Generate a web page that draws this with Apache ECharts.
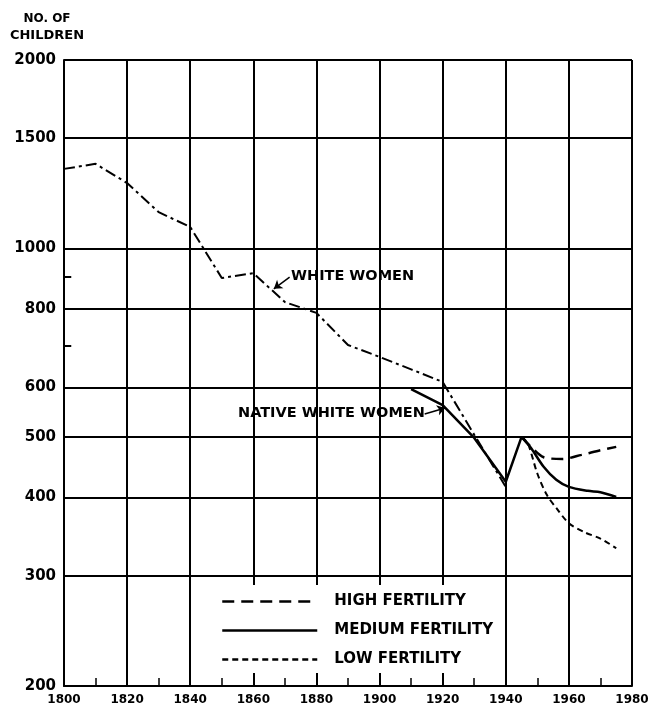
<!DOCTYPE html>
<html><head><meta charset="utf-8">
<script src="https://cdn.jsdelivr.net/npm/echarts@6/dist/echarts.min.js"></script>
<style>html,body{margin:0;padding:0;background:#fff}#c{width:652px;height:706px}</style>
</head><body><div id="c"></div>
<script>
// ---- data ----
const yGridValues = [200, 300, 400, 500, 600, 800, 1000, 1500, 2000];
const yMinorTicks = [700, 900];
const whiteWomen = [[1800,1340],[1810,1365],[1820,1272],[1830,1143],[1840,1082],[1850,897],[1860,913],[1870,821],[1880,789],[1890,701],[1900,671],[1910,641],[1920,612],[1930,504],[1940,416]];
const nativeWhiteWomen = [[1910,596],[1920,562],[1930,498],[1940,424],[1945,500]];
const highFertility = [[1945,500],[1948,482],[1952,464],[1958,461],[1964,468],[1970,476],[1975,482]];
const mediumFertility = [[1945,500],[1948,480],[1952,448],[1956,427],[1960,416],[1966,410],[1970,408],[1975,401]];
const lowFertility = [[1945,500],[1947,488],[1950,437],[1953,404],[1956,385],[1960,364],[1965,352],[1970,344],[1975,332]];
const whiteArrow = [[1871.5, 900], [1866.5, 862]];
const nativeArrow = [[1914.3, 544], [1920.8, 556]];
const seriesNames = ['HIGH FERTILITY', 'MEDIUM FERTILITY', 'LOW FERTILITY'];

const FF = 'DejaVu Sans';
const K = '#000';
const chart = echarts.init(document.getElementById('c'), null, {renderer: 'canvas'});

chart.setOption({
  animation: false,
  backgroundColor: '#fff',
  grid: {left: 64, right: 20, top: 60, bottom: 20},
  xAxis: {
    type: 'value', min: 1800, max: 1980, interval: 20,
    axisLine: {show: true, lineStyle: {color: K, width: 2}},
    axisTick: {show: true, inside: true, length: 8, lineStyle: {color: K, width: 1.5}},
    minorTick: {show: true, splitNumber: 2, length: 8, lineStyle: {color: K, width: 1.5}},
    axisLabel: {formatter: v => String(v), color: K, fontSize: 12, fontWeight: 'bold', fontFamily: FF, margin: 8},
    splitLine: {show: true, lineStyle: {color: K, width: 2}}
  },
  yAxis: {
    type: 'log', logBase: 10, min: 200, max: 2000,
    axisLine: {show: true, lineStyle: {color: K, width: 2}},
    axisTick: {show: false}, axisLabel: {show: false}, splitLine: {show: false}
  },
  legend: {
    data: seriesNames, orient: 'vertical', left: 205, top: 585,
    padding: [9, 8, 6, 16], itemGap: 14, itemWidth: 95, itemHeight: 14,
    backgroundColor: '#fff', selectedMode: false,
    itemStyle: {opacity: 0, borderWidth: 0},
    lineStyle: {width: 2.5},
    textStyle: {color: K, fontSize: 15, fontWeight: 'bold', fontFamily: FF, padding: [0, 0, 0, 12]}
  },
  graphic: [
    {type: 'text', x: 47, y: 13, style: {text: 'NO. OF', align: 'center', fill: K, font: 'bold 12px "DejaVu Sans"'}, z: 10},
    {type: 'text', x: 47, y: 29, style: {text: 'CHILDREN', align: 'center', fill: K, font: 'bold 13px "DejaVu Sans"'}, z: 10},
    {type: 'text', left: 291, top: 269, style: {text: 'WHITE WOMEN', fill: K, font: 'bold 14.5px "DejaVu Sans"'}, z: 10},
    {type: 'text', left: 238, top: 406, style: {text: 'NATIVE WHITE WOMEN', fill: K, font: 'bold 14.5px "DejaVu Sans"'}, z: 10}
  ],
  series: [
    {
      name: 'grid', type: 'line', data: [], z: 1, silent: true,
      markLine: {
        silent: true, symbol: ['none', 'none'], animation: false,
        lineStyle: {color: K, width: 2, type: 'solid'},
        label: {show: true, position: 'start', distance: 8, formatter: p => String(p.value), color: K, fontSize: 15, fontWeight: 'bold', fontFamily: FF},
        emphasis: {disabled: true},
        data: yGridValues.map(v => ({yAxis: v}))
      }
    },
    {
      name: 'ticks', type: 'line', data: [], z: 1, silent: true,
      markLine: {
        silent: true, symbol: ['none', 'none'], animation: false,
        lineStyle: {color: K, width: 2, type: 'solid'}, label: {show: false},
        emphasis: {disabled: true},
        data: yMinorTicks.map(v => [{coord: [1800, v]}, {coord: [1802.3, v]}])
      }
    },
    {
      name: 'arrows', type: 'line', data: [], z: 3, silent: true,
      markLine: {
        silent: true, symbol: ['none', 'arrow'], symbolSize: 8, animation: false,
        lineStyle: {color: K, width: 1.5, type: 'solid'}, label: {show: false},
        emphasis: {disabled: true},
        data: [[{coord: whiteArrow[0]}, {coord: whiteArrow[1]}], [{coord: nativeArrow[0]}, {coord: nativeArrow[1]}]]
      }
    },
    {name: 'WHITE WOMEN', type: 'line', data: whiteWomen, symbol: 'none', z: 3,
      lineStyle: {color: K, width: 2, type: [11, 4, 3, 4]}},
    {name: 'NATIVE WHITE WOMEN', type: 'line', data: nativeWhiteWomen, symbol: 'none', z: 3,
      lineStyle: {color: K, width: 2.5, type: 'solid'}},
    {name: 'HIGH FERTILITY', type: 'line', data: highFertility, symbol: 'none', smooth: 0.3, z: 3,
      itemStyle: {color: K}, lineStyle: {color: K, width: 2.5, type: [12, 7]}},
    {name: 'MEDIUM FERTILITY', type: 'line', data: mediumFertility, symbol: 'none', smooth: 0.3, z: 3,
      itemStyle: {color: K}, lineStyle: {color: K, width: 2.5, type: 'solid'}},
    {name: 'LOW FERTILITY', type: 'line', data: lowFertility, symbol: 'none', smooth: 0.3, z: 3,
      itemStyle: {color: K}, lineStyle: {color: K, width: 2, type: [6, 4]}}
  ]
});
</script></body></html>
